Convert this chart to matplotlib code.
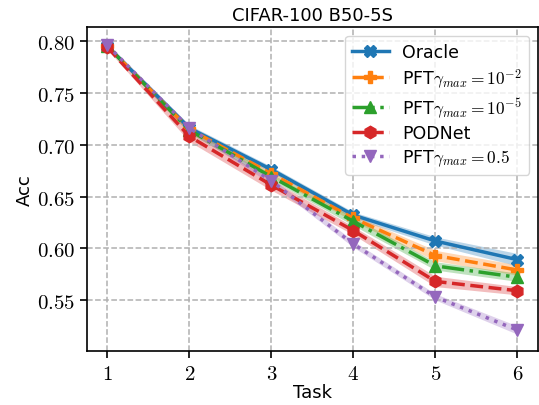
import numpy as np
import matplotlib
matplotlib.use('Agg')
import matplotlib.pyplot as plt
from matplotlib.ticker import FuncFormatter

plt.rcParams['mathtext.fontset'] = 'cm'
plt.rcParams['font.family'] = ['DejaVu Sans']

tasks = [1, 2, 3, 4, 5, 6]
oracle = [0.795, 0.716, 0.676, 0.632, 0.607, 0.589]
pft_e2 = [0.795, 0.715, 0.672, 0.629, 0.593, 0.579]
pft_e5 = [0.795, 0.714, 0.669, 0.626, 0.583, 0.572]
podnet = [0.794, 0.708, 0.661, 0.617, 0.568, 0.559]
pft_05 = [0.796, 0.716, 0.665, 0.604, 0.553, 0.521]

oracle_std = [0.002, 0.003, 0.003, 0.003, 0.004, 0.006]
pft_e2_std = [0.002, 0.003, 0.003, 0.003, 0.005, 0.005]
pft_e5_std = [0.002, 0.003, 0.003, 0.004, 0.004, 0.004]
podnet_std = [0.002, 0.005, 0.005, 0.004, 0.005, 0.004]
pft_05_std = [0.002, 0.003, 0.003, 0.003, 0.003, 0.004]

series = [
    (r'Oracle', oracle, oracle_std, 'tab:blue', '-', 'X'),
    (r'PFT$\gamma_{max}=10^{-2}$', pft_e2, pft_e2_std, 'tab:orange', '--', 'P'),
    (r'PFT$\gamma_{max}=10^{-5}$', pft_e5, pft_e5_std, 'tab:green', '-.', '^'),
    (r'PODNet', podnet, podnet_std, 'tab:red', '--', 'h'),
    (r'PFT$\gamma_{max}=0.5$', pft_05, pft_05_std, 'tab:purple', ':', 'v'),
]

fig = plt.figure(figsize=(5.39, 4.06), dpi=100)
ax = fig.add_axes([0.1614, 0.133, 0.8366, 0.798])

for label, y, s, c, ls, m in series:
    y = np.array(y)
    s = np.array(s)
    ax.fill_between(tasks, y - s, y + s, color=c, alpha=0.3, lw=0)
    ax.plot(tasks, y, color=c, ls=ls, marker=m, lw=2.5, ms=9, label=label)

ax.set_xlim(0.75, 6.25)
ax.set_ylim(0.5008, 0.8137)
ax.set_xticks(tasks)
ax.set_yticks([0.55, 0.60, 0.65, 0.70, 0.75, 0.80])
ax.xaxis.set_major_formatter(FuncFormatter(lambda v, p: r'$%d$' % v))
ax.yaxis.set_major_formatter(FuncFormatter(lambda v, p: r'$%.2f$' % v))
ax.tick_params(labelsize=15, width=1.2, length=5)
ax.grid(True, ls='--', color='#b0b0b0', lw=1.1)
for sp in ax.spines.values():
    sp.set_linewidth(1.2)

ax.set_xlabel('Task', fontsize=13, labelpad=0)
ax.set_ylabel('Acc', fontsize=13, labelpad=2)
ax.set_title('CIFAR-100 B50-5S', fontsize=13, pad=5)
ax.legend(loc='upper right', fontsize=12.5, handlelength=2.1, borderpad=0.4,
          labelspacing=0.3, framealpha=0.8)

fig.savefig('out.png', dpi=100)
